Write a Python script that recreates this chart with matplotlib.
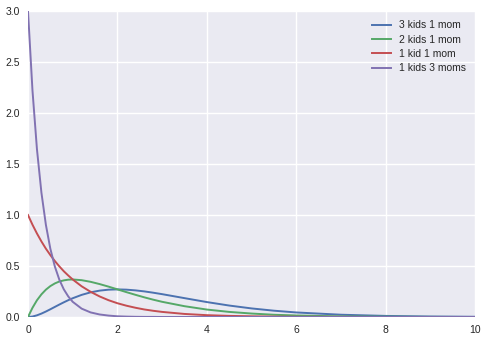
import matplotlib
matplotlib.use("Agg")
import matplotlib.pyplot as plt

# sample positions along the x axis
x = [0, 0.1, 0.2, 0.3, 0.4, 0.5, 0.6, 0.7, 0.8, 0.9, 1.0,
     1.2, 1.4, 1.6, 1.8, 2.0, 2.2, 2.4, 2.6, 2.8, 3.0,
     3.5, 4.0, 4.5, 5.0, 5.5, 6.0, 7.0, 8.0, 9.0, 10.0]

three_kids_one_mom = [0, 0.0045, 0.0164, 0.0333, 0.0536, 0.0758, 0.0988, 0.1217, 0.1438, 0.1647, 0.1839,
                      0.2169, 0.2417, 0.2584, 0.2678, 0.2707, 0.2681, 0.2612, 0.2511, 0.2383, 0.2240,
                      0.1850, 0.1465, 0.1124, 0.0842, 0.0619, 0.0446, 0.0223, 0.0107, 0.0050, 0.0023]
two_kids_one_mom = [0, 0.090, 0.164, 0.222, 0.268, 0.303, 0.329, 0.348, 0.359, 0.366, 0.368,
                    0.361, 0.345, 0.323, 0.298, 0.271, 0.244, 0.218, 0.193, 0.170, 0.149,
                    0.106, 0.073, 0.050, 0.034, 0.022, 0.015, 0.006, 0.003, 0.001, 0.000]
one_kid_one_mom = [1.0, 0.905, 0.819, 0.741, 0.670, 0.607, 0.549, 0.497, 0.449, 0.407, 0.368,
                   0.301, 0.247, 0.202, 0.165, 0.135, 0.111, 0.091, 0.074, 0.061, 0.050,
                   0.030, 0.018, 0.011, 0.007, 0.004, 0.002, 0.001, 0.000, 0.000, 0.000]
one_kid_three_moms = [3.0, 2.222, 1.646, 1.220, 0.904, 0.669, 0.496, 0.367, 0.272, 0.202, 0.149,
                      0.082, 0.045, 0.025, 0.014, 0.007, 0.004, 0.002, 0.001, 0.001, 0.000,
                      0, 0, 0, 0, 0, 0, 0, 0, 0, 0]

labels = ["3 kids 1 mom", "2 kids 1 mom", "1 kid 1 mom", "1 kids 3 moms"]
colors = ["#4C72B0", "#55A868", "#C44E52", "#8172B2"]

plt.rcParams['font.family'] = ['Liberation Sans', 'DejaVu Sans']

fig = plt.figure(figsize=(4.87, 3.41), dpi=100)
ax = fig.add_axes([28 / 487, 1 - 317 / 341, (475 - 28) / 487, (317 - 11) / 341])
ax.set_facecolor("#EAEAF2")
for s in ax.spines.values():
    s.set_visible(False)
ax.grid(True, color="white", linewidth=1.0)
ax.set_axisbelow(True)

for ys, lab, c in zip([three_kids_one_mom, two_kids_one_mom, one_kid_one_mom, one_kid_three_moms], labels, colors):
    ax.plot(x, ys, color=c, label=lab, linewidth=1.4)

ax.set_xlim(0, 10)
ax.set_ylim(0, 3.0)
ax.set_xticks([0, 2, 4, 6, 8, 10])
ax.set_yticks([0.0, 0.5, 1.0, 1.5, 2.0, 2.5, 3.0])
ax.set_yticklabels(["0.0", "0.5", "1.0", "1.5", "2.0", "2.5", "3.0"])
ax.tick_params(length=0, labelsize=7.5, colors="#262626", pad=6)

leg = ax.legend(loc="upper right", frameon=False, fontsize=7.5, handlelength=1.9,
                labelspacing=0.42, borderaxespad=0.5, handletextpad=0.7)
for t in leg.get_texts():
    t.set_color("#262626")

fig.savefig("out.png", dpi=100)
